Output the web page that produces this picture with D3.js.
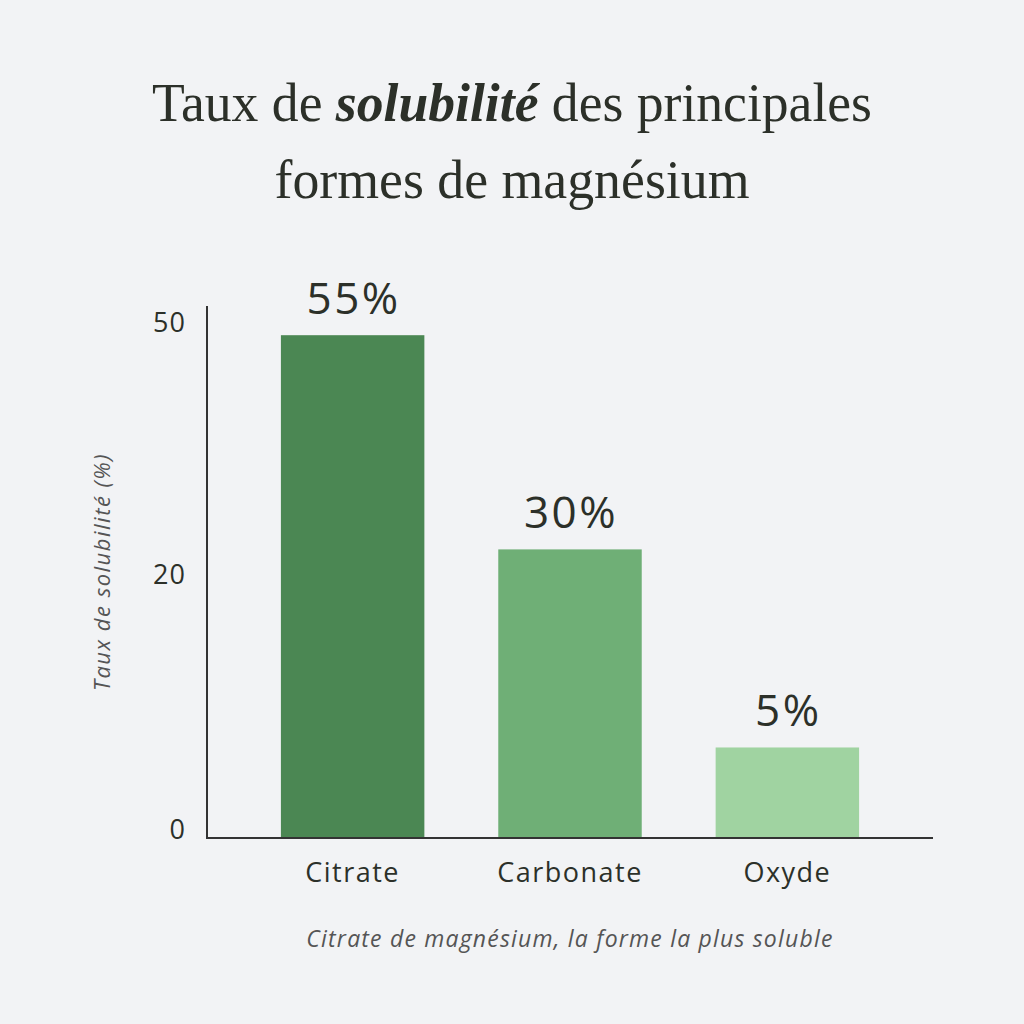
<!DOCTYPE html>
<html>
<head>
<meta charset="utf-8">
<script src="https://cdn.jsdelivr.net/npm/d3@7"></script>
<style>
  body { margin: 0; background: #f2f3f5; }
  svg { display: block; }
</style>
</head>
<body>
<svg id="chart" width="1024" height="1024"></svg>
<script>
// data
var forms = ["Citrate", "Carbonate", "Oxyde"];
var barValues = [49.5, 24, 7.1]; // heights as drawn on the axis
var valueLabels = ["55%", "30%", "5%"];
var yTicks = [0, 20, 50];
var barColors = ["#4b8753", "#6faf76", "#a0d3a1"];

var svg = d3.select("#chart");
var ink = "#2c3029";
var sans = "'Open Sans', sans-serif";

svg.append("rect").attr("width", 1024).attr("height", 1024).attr("fill", "#f2f3f5");

// title
var title = svg.append("g").attr("font-family", "'Liberation Serif', serif").attr("fill", ink);
var t1 = title.append("text")
  .attr("x", 512).attr("y", 121)
  .attr("text-anchor", "middle")
  .attr("font-size", 54)
  .attr("textLength", 720)
  .attr("lengthAdjust", "spacingAndGlyphs");
t1.append("tspan").text("Taux de ");
t1.append("tspan").attr("font-style", "italic").attr("font-weight", "bold").text("solubilité");
t1.append("tspan").text(" des principales");
title.append("text")
  .attr("x", 512).attr("y", 198)
  .attr("text-anchor", "middle")
  .attr("font-size", 54)
  .attr("textLength", 475)
  .attr("lengthAdjust", "spacingAndGlyphs")
  .text("formes de magnésium");

// scales
var left = 207, right = 933, bottom = 838, axisTop = 306;

var x = d3.scaleBand().domain(forms).range([left, right]).padding(0.34);
// tick positions on the picture are not evenly spaced
var y = d3.scaleLinear().domain(yTicks).range([bottom, 583, 331]);

var data = forms.map(function (d, i) {
  return { form: d, value: barValues[i], label: valueLabels[i], color: barColors[i] };
});

// bars
svg.selectAll("rect.bar")
  .data(data)
  .enter()
  .append("rect")
  .attr("class", "bar")
  .attr("x", function (d) { return x(d.form); })
  .attr("width", x.bandwidth())
  .attr("y", function (d) { return y(d.value); })
  .attr("height", function (d) { return bottom - y(d.value); })
  .attr("fill", function (d) { return d.color; });

// value labels
svg.selectAll("text.val")
  .data(data)
  .enter()
  .append("text")
  .attr("class", "val")
  .attr("x", function (d) { return x(d.form) + x.bandwidth() / 2 + 1; })
  .attr("y", function (d) { return y(d.value) - 21; })
  .attr("text-anchor", "middle")
  .attr("font-family", sans)
  .attr("font-size", 44)
  .attr("letter-spacing", 2.5)
  .attr("fill", ink)
  .text(function (d) { return d.label; });

// y axis
var yAxis = svg.append("g")
  .attr("transform", "translate(" + left + ",0)")
  .call(d3.axisLeft(y).tickValues(yTicks).tickSize(0).tickPadding(21));
yAxis.select(".domain").remove();
yAxis.selectAll("text")
  .attr("dy", 0)
  .attr("font-family", sans)
  .attr("font-size", 27)
  .attr("letter-spacing", 1)
  .attr("fill", ink);

svg.append("line")
  .attr("x1", left).attr("x2", left)
  .attr("y1", axisTop).attr("y2", bottom + 1)
  .attr("stroke", "#333")
  .attr("stroke-width", 2);

// x axis
var xAxis = svg.append("g")
  .attr("transform", "translate(0," + bottom + ")")
  .call(d3.axisBottom(x).tickSize(0).tickPadding(25));
xAxis.select(".domain")
  .attr("d", "M" + left + ",0H" + right)
  .attr("stroke", "#333")
  .attr("stroke-width", 2);
xAxis.selectAll("text")
  .attr("dy", "0.71em")
  .attr("font-family", sans)
  .attr("font-size", 27)
  .attr("letter-spacing", 1.5)
  .attr("fill", ink);

// axis title
svg.append("text")
  .attr("transform", "translate(110,572) rotate(-90)")
  .attr("text-anchor", "middle")
  .attr("font-family", sans)
  .attr("font-style", "italic")
  .attr("font-size", 22)
  .attr("letter-spacing", 1.5)
  .attr("fill", "#555")
  .text("Taux de solubilité (%)");

// caption
svg.append("text")
  .attr("x", (left + right) / 2)
  .attr("y", 947)
  .attr("text-anchor", "middle")
  .attr("font-family", sans)
  .attr("font-style", "italic")
  .attr("font-size", 23)
  .attr("letter-spacing", 1.2)
  .attr("fill", "#555")
  .text("Citrate de magnésium, la forme la plus soluble");
</script>
</body>
</html>
